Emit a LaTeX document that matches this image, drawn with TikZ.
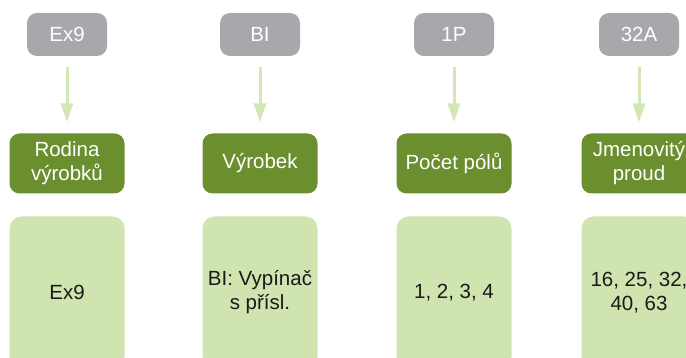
\documentclass[tikz,border=0pt]{standalone}
\usepackage{fontspec}
\setmainfont{Liberation Sans}
\usetikzlibrary{positioning,arrows.meta}

\definecolor{codegray}{HTML}{A7A8AB}
\definecolor{fieldgreen}{HTML}{6B8E2F}
\definecolor{valuegreen}{HTML}{CFE4AE}
\definecolor{arrowgreen}{HTML}{D2E7B3}
\definecolor{valuetext}{HTML}{1A1A1A}

\tikzset{
  code/.style={fill=codegray, text=white, rounded corners=10pt,
    minimum width=80pt, minimum height=43pt, inner sep=0pt},
  field/.style={fill=fieldgreen, text=white, rounded corners=10pt,
    minimum width=115pt, minimum height=60pt, inner sep=0pt, align=center},
  values/.style={fill=valuegreen, text=valuetext, rounded corners=12pt,
    minimum width=115pt, minimum height=152pt, inner sep=0pt, align=center},
  link/.style={draw=arrowgreen, line width=3pt,
    -{Triangle[width=12pt,length=19pt]}, shorten >=11pt, shorten <=11pt}
}

\begin{document}
\begin{tikzpicture}[
                    x=1pt,
                    y=-1pt,
                    node distance=129pt,
                    font=\fontsize{20.5}{24}\selectfont
                ]
                \clip (0,0) rectangle (686,358);

                \node[code] (C1) at (67,34.5) {Ex9};
                \node[code] (C2) at (260,34.5) {BI};
                \node[code] (C3) at (454,34.5) {1P};
                \node[code] (C4) at (639,34.5) {32A};

                \node[field] (F1) [below of=C1] {Rodina\\výrobků};
                \node[field] (F2) [below of=C2] {Výrobek};
                \node[field] (F3) [below of=C3] {Počet pólů};
                \node[field] (F4) [below of=C4] {Jmenovitý\\proud};

                \node[values] (V1) [below of=F1] {Ex9};
                \node[values] (V2) [below of=F2] {BI: Vypínač\\s přísl.};
                \node[values] (V3) [below of=F3] {1, 2, 3, 4};
                \node[values] (V4) [below of=F4] {16, 25, 32,\\40, 63};

                \path
                (C1) edge[link] (F1)
                (C2) edge[link] (F2)
                (C3) edge[link] (F3)
                (C4) edge[link] (F4)
                ;
            \end{tikzpicture}
\end{document}
